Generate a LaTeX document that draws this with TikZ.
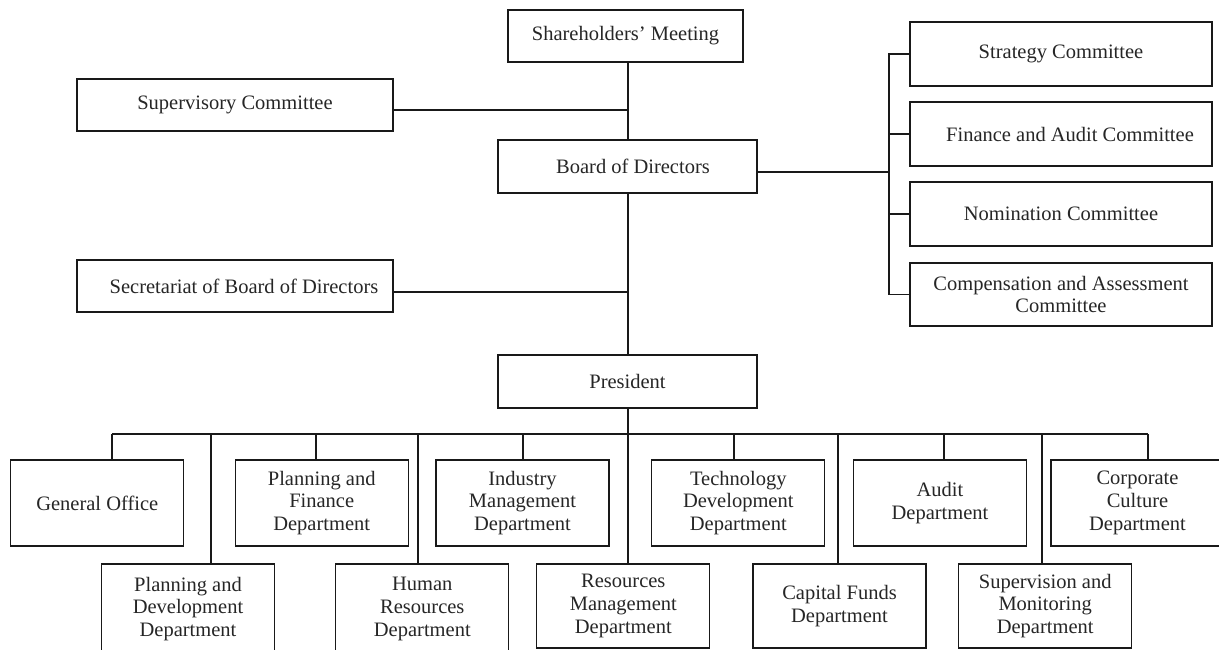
\documentclass[tikz,border=0pt]{standalone}
\usepackage{fontspec}
\setmainfont{Liberation Serif}
\begin{document}
\begin{tikzpicture}[x=1pt,y=-1pt,
  box/.style={draw=black!90, line width=1.2pt, inner sep=0pt, align=center, text=black!85,
    font=\fontsize{20.5}{22.7}\selectfont},
  dept/.style={box, minimum width=173, minimum height=86},
  bdept/.style={box, minimum width=173, minimum height=84},
  comm/.style={box, minimum width=302, minimum height=64},
  ln/.style={draw=black!90, line width=1.2pt}]
\useasboundingbox (0,0) rectangle (1219,650);

% top level
\node[box, minimum width=235, minimum height=52] (sm) at (625.5,36) {Shareholders' Meeting};
\node[box, minimum width=316, minimum height=52] (sup) at (235,105) {Supervisory Committee};
\node[box, minimum width=259, minimum height=53] (bod) at (627.5,166.5) {\hspace*{11pt}Board of Directors};
\node[box, minimum width=316, minimum height=52] (sec) at (235,286) {\hspace*{18pt}Secretariat of Board of Directors};
\node[box, minimum width=259, minimum height=53] (pres) at (627.5,381.5) {President};

% committees
\node[comm] (strat) at (1061,54) {Strategy Committee};
\node[comm] (fin) at (1061,134) {\hspace*{18pt}Finance and Audit Committee};
\node[comm] (nom) at (1061,214) {Nomination Committee};
\node[comm, minimum height=63] (comp) at (1061,294.5) {Compensation and Assessment\\Committee};

% departments, upper row
\node[dept] (go) at (97.3,503) {General Office};
\node[dept] (pf) at (321.7,503) {Planning and\\Finance\\Department};
\node[dept] (im) at (522.5,503) {Industry\\Management\\Department};
\node[dept] (td) at (738.3,503) {Technology\\Development\\Department};
\node[dept] (ad) at (940,503) {Audit\\Department};
\node[dept] (cc) at (1137.5,503) {Corporate\\Culture\\Department};

% departments, lower row
\node[box, minimum width=173, minimum height=90] (pd) at (188,609) {Planning and\\Development\\Department};
\node[box, minimum width=173, minimum height=90] (hr) at (422.3,609) {Human\\Resources\\Department};
\node[bdept] (rm) at (623.3,606) {Resources\\Management\\Department};
\node[bdept] (cf) at (839.5,606) {Capital Funds\\Department};
\node[bdept] (sv) at (1045.2,606) {Supervision and\\Monitoring\\Department};

% junction coordinates
\coordinate (jsup) at (628,110);
\coordinate (jsec) at (628,292);
\coordinate (cb) at (889,172);
\coordinate (bus) at (628,434);
\coordinate (cgo) at (112,434);
\coordinate (cpd) at (211,434);
\coordinate (cpf) at (316,434);
\coordinate (chr) at (418,434);
\coordinate (cim) at (523,434);
\coordinate (ctd) at (734,434);
\coordinate (ccf) at (838,434);
\coordinate (cad) at (944,434);
\coordinate (csv) at (1042,434);
\coordinate (ccc) at (1148,434);

% trunk
\draw[ln] (sm.south -| jsup) -- (bod.north -| jsup);
\draw[ln] (sup.east |- jsup) -- (jsup);
\draw[ln] (bod.south -| jsec) -- (pres.north -| jsec);
\draw[ln] (sec.east |- jsec) -- (jsec);

% committees
\draw[ln] (bod.east |- cb) -- (cb);
\draw[ln] (strat.west) -- (strat.west -| cb) -- (comp.west -| cb) -- (comp.west);
\draw[ln] (fin.west) -- (fin.west -| cb);
\draw[ln] (nom.west) -- (nom.west -| cb);

% departments
\draw[ln] (pres.south -| bus) -- (rm.north -| bus);
\draw[ln] (cgo) -- (ccc);
\draw[ln] (cgo) -- (go.north -| cgo);
\draw[ln] (cpd) -- (pd.north -| cpd);
\draw[ln] (cpf) -- (pf.north -| cpf);
\draw[ln] (chr) -- (hr.north -| chr);
\draw[ln] (cim) -- (im.north -| cim);
\draw[ln] (ctd) -- (td.north -| ctd);
\draw[ln] (ccf) -- (cf.north -| ccf);
\draw[ln] (cad) -- (ad.north -| cad);
\draw[ln] (csv) -- (sv.north -| csv);
\draw[ln] (ccc) -- (cc.north -| ccc);
\end{tikzpicture}
\end{document}
